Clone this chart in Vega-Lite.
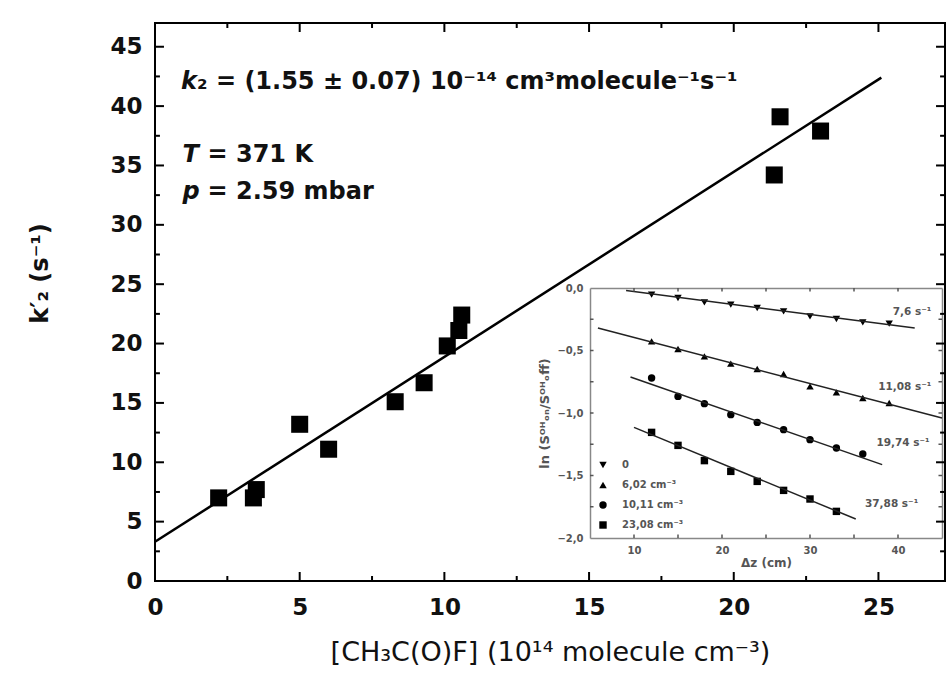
{
  "$schema": "https://vega.github.io/schema/vega-lite/v6.json",
  "width": 790,
  "height": 558,
  "autosize": {"type": "none"},
  "padding": {"left": 155, "top": 23, "right": 1, "bottom": 99},
  "background": "white",
  "config": {"view": {"stroke": "black", "strokeWidth": 2}, "font": "DejaVu Sans"},
  "datasets": {
    "xMaj": [{"t": 0}, {"t": 5}, {"t": 10}, {"t": 15}, {"t": 20}, {"t": 25}],
    "xMin": [{"t": 2.5}, {"t": 7.5}, {"t": 12.5}, {"t": 17.5}, {"t": 22.5}],
    "yMaj": [{"t": 5}, {"t": 10}, {"t": 15}, {"t": 20}, {"t": 25}, {"t": 30}, {"t": 35}, {"t": 40}, {"t": 45}],
    "yMin": [{"t": 2.5}, {"t": 7.5}, {"t": 12.5}, {"t": 17.5}, {"t": 22.5}, {"t": 27.5}, {"t": 32.5}, {"t": 37.5}, {"t": 42.5}],
    "ixT": [{"t": 10}, {"t": 15}, {"t": 20}, {"t": 25}, {"t": 30}, {"t": 35}, {"t": 40}],
    "iyT": [{"t": -1.75}, {"t": -1.5}, {"t": -1.25}, {"t": -1}, {"t": -0.75}, {"t": -0.5}, {"t": -0.25}]
  },
  "resolve": {"scale": {"x": "independent", "y": "independent"}},
  "layer": [
    {
      "resolve": {"axis": {"x": "independent", "y": "independent"}},
      "layer": [
        {
          "data": {"values": [
            {"conc": 2.2, "k": 7.0}, {"conc": 3.4, "k": 7.0}, {"conc": 3.5, "k": 7.7},
            {"conc": 5.0, "k": 13.2}, {"conc": 6.0, "k": 11.1}, {"conc": 8.3, "k": 15.1},
            {"conc": 9.3, "k": 16.7}, {"conc": 10.1, "k": 19.8}, {"conc": 10.5, "k": 21.1},
            {"conc": 10.6, "k": 22.4}, {"conc": 21.4, "k": 34.2}, {"conc": 21.6, "k": 39.1},
            {"conc": 23.0, "k": 37.9}
          ]},
          "mark": {"type": "square", "size": 290, "color": "black", "opacity": 1},
          "encoding": {
            "x": {"field": "conc", "type": "quantitative",
              "scale": {"domain": [0, 27.3], "nice": false, "zero": false},
              "axis": {"orient": "bottom", "grid": false, "ticks": false, "tickSize": 0, "domain": false,
                "values": [0, 5, 10, 15, 20, 25],
                "labelFont": "DejaVu Sans", "labelFontSize": 23, "labelFontWeight": "bold", "labelColor": "#111", "labelPadding": 15,
                "labelFlush": false, "labelOverlap": false,
                "title": "[CH₃C(O)F]  (10¹⁴ molecule cm⁻³)", "titleFont": "DejaVu Sans", "titleFontSize": 27, "titleFontWeight": "normal",
                "titleColor": "#111", "titlePadding": 20}},
            "y": {"field": "k", "type": "quantitative",
              "scale": {"domain": [0, 47], "nice": false},
              "axis": {"orient": "left", "grid": false, "ticks": false, "tickSize": 0, "domain": false,
                "values": [0, 5, 10, 15, 20, 25, 30, 35, 40, 45],
                "labelFont": "DejaVu Sans", "labelFontSize": 23, "labelFontWeight": "bold", "labelColor": "#111", "labelPadding": 13,
                "labelFlush": false, "labelOverlap": false,
                "title": "k′₂ (s⁻¹)", "titleFont": "DejaVu Sans", "titleFontSize": 24, "titleFontWeight": "bold",
                "titleColor": "#111", "titlePadding": 57, "titleY": 250}}
          }
        },
        {
          "data": {"values": [{"conc": 0, "k": 3.3}, {"conc": 25.1, "k": 42.4}]},
          "mark": {"type": "line", "color": "black", "strokeWidth": 2.5},
          "encoding": {
            "x": {"field": "conc", "type": "quantitative", "scale": {"domain": [0, 27.3], "nice": false, "zero": false}, "axis": null},
            "y": {"field": "k", "type": "quantitative", "scale": {"domain": [0, 47], "nice": false}, "axis": null}
          }
        },
        {
          "data": {"name": "xMaj"},
          "layer": [
            {"mark": {"type": "rule", "color": "black", "strokeWidth": 2},
             "encoding": {
               "x": {"field": "t", "type": "quantitative", "scale": {"domain": [0, 27.3], "nice": false, "zero": false}, "axis": null},
               "y": {"datum": 0, "type": "quantitative", "scale": {"domain": [0, 47], "nice": false}, "axis": null},
               "y2": {"datum": 0.76}}},
            {"mark": {"type": "rule", "color": "black", "strokeWidth": 2},
             "encoding": {
               "x": {"field": "t", "type": "quantitative", "scale": {"domain": [0, 27.3], "nice": false, "zero": false}, "axis": null},
               "y": {"datum": 47, "type": "quantitative", "scale": {"domain": [0, 47], "nice": false}, "axis": null},
               "y2": {"datum": 46.24}}}
          ]
        },
        {
          "data": {"name": "xMin"},
          "layer": [
            {"mark": {"type": "rule", "color": "black", "strokeWidth": 2},
             "encoding": {
               "x": {"field": "t", "type": "quantitative", "scale": {"domain": [0, 27.3], "nice": false, "zero": false}, "axis": null},
               "y": {"datum": 0, "type": "quantitative", "scale": {"domain": [0, 47], "nice": false}, "axis": null},
               "y2": {"datum": 0.42}}},
            {"mark": {"type": "rule", "color": "black", "strokeWidth": 2},
             "encoding": {
               "x": {"field": "t", "type": "quantitative", "scale": {"domain": [0, 27.3], "nice": false, "zero": false}, "axis": null},
               "y": {"datum": 47, "type": "quantitative", "scale": {"domain": [0, 47], "nice": false}, "axis": null},
               "y2": {"datum": 46.58}}}
          ]
        },
        {
          "data": {"name": "yMaj"},
          "layer": [
            {"mark": {"type": "rule", "color": "black", "strokeWidth": 2},
             "encoding": {
               "y": {"field": "t", "type": "quantitative", "scale": {"domain": [0, 47], "nice": false}, "axis": null},
               "x": {"datum": 0, "type": "quantitative", "scale": {"domain": [0, 27.3], "nice": false, "zero": false}, "axis": null},
               "x2": {"datum": 0.31}}},
            {"mark": {"type": "rule", "color": "black", "strokeWidth": 2},
             "encoding": {
               "y": {"field": "t", "type": "quantitative", "scale": {"domain": [0, 47], "nice": false}, "axis": null},
               "x": {"datum": 27.3, "type": "quantitative", "scale": {"domain": [0, 27.3], "nice": false, "zero": false}, "axis": null},
               "x2": {"datum": 26.99}}}
          ]
        },
        {
          "data": {"name": "yMin"},
          "layer": [
            {"mark": {"type": "rule", "color": "black", "strokeWidth": 2},
             "encoding": {
               "y": {"field": "t", "type": "quantitative", "scale": {"domain": [0, 47], "nice": false}, "axis": null},
               "x": {"datum": 0, "type": "quantitative", "scale": {"domain": [0, 27.3], "nice": false, "zero": false}, "axis": null},
               "x2": {"datum": 0.17}}},
            {"mark": {"type": "rule", "color": "black", "strokeWidth": 2},
             "encoding": {
               "y": {"field": "t", "type": "quantitative", "scale": {"domain": [0, 47], "nice": false}, "axis": null},
               "x": {"datum": 27.3, "type": "quantitative", "scale": {"domain": [0, 27.3], "nice": false, "zero": false}, "axis": null},
               "x2": {"datum": 27.13}}}
          ]
        },
        {
          "data": {"values": [
            {"conc": 0.9, "k": 42.0, "sym": "k", "rest": "₂ = (1.55 ± 0.07) 10⁻¹⁴ cm³molecule⁻¹s⁻¹"},
            {"conc": 0.95, "k": 35.9, "sym": "T", "rest": "= 371 K"},
            {"conc": 0.95, "k": 32.8, "sym": "p", "rest": "= 2.59 mbar"}
          ]},
          "layer": [
            {
              "mark": {"type": "text", "align": "left", "baseline": "middle", "fontSize": 24,
                "font": "DejaVu Sans", "fontWeight": "bold", "fontStyle": "italic", "color": "#111"},
              "encoding": {
                "x": {"field": "conc", "type": "quantitative", "scale": {"domain": [0, 27.3], "nice": false, "zero": false}, "axis": null},
                "y": {"field": "k", "type": "quantitative", "scale": {"domain": [0, 47], "nice": false}, "axis": null},
                "text": {"field": "sym"}
              }
            },
            {
              "transform": [{"filter": "datum.sym === 'k'"}],
              "mark": {"type": "text", "align": "left", "baseline": "middle", "fontSize": 24,
                "font": "DejaVu Sans", "fontWeight": "bold", "color": "#111", "dx": 16},
              "encoding": {
                "x": {"field": "conc", "type": "quantitative", "scale": {"domain": [0, 27.3], "nice": false, "zero": false}, "axis": null},
                "y": {"field": "k", "type": "quantitative", "scale": {"domain": [0, 47], "nice": false}, "axis": null},
                "text": {"field": "rest"}
              }
            },
            {
              "transform": [{"filter": "datum.sym !== 'k'"}],
              "mark": {"type": "text", "align": "left", "baseline": "middle", "fontSize": 24,
                "font": "DejaVu Sans", "fontWeight": "bold", "color": "#111", "dx": 25},
              "encoding": {
                "x": {"field": "conc", "type": "quantitative", "scale": {"domain": [0, 27.3], "nice": false, "zero": false}, "axis": null},
                "y": {"field": "k", "type": "quantitative", "scale": {"domain": [0, 47], "nice": false}, "axis": null},
                "text": {"field": "rest"}
              }
            }
          ]
        }
      ]
    },
    {
      "resolve": {"axis": {"x": "independent", "y": "independent"}},
      "layer": [
        {
          "data": {"values": [
            {"c": "0", "dz": 12, "v": -0.053}, {"c": "0", "dz": 15, "v": -0.08}, {"c": "0", "dz": 18, "v": -0.115},
            {"c": "0", "dz": 21, "v": -0.133}, {"c": "0", "dz": 24, "v": -0.16}, {"c": "0", "dz": 27, "v": -0.187},
            {"c": "0", "dz": 30, "v": -0.227}, {"c": "0", "dz": 33, "v": -0.248}, {"c": "0", "dz": 36, "v": -0.275},
            {"c": "0", "dz": 39, "v": -0.285},
            {"c": "6,02 cm⁻³", "dz": 12, "v": -0.427}, {"c": "6,02 cm⁻³", "dz": 15, "v": -0.488},
            {"c": "6,02 cm⁻³", "dz": 18, "v": -0.547}, {"c": "6,02 cm⁻³", "dz": 21, "v": -0.605},
            {"c": "6,02 cm⁻³", "dz": 24, "v": -0.648}, {"c": "6,02 cm⁻³", "dz": 27, "v": -0.688},
            {"c": "6,02 cm⁻³", "dz": 30, "v": -0.787}, {"c": "6,02 cm⁻³", "dz": 33, "v": -0.835},
            {"c": "6,02 cm⁻³", "dz": 36, "v": -0.88}, {"c": "6,02 cm⁻³", "dz": 39, "v": -0.92},
            {"c": "10,11 cm⁻³", "dz": 12, "v": -0.72}, {"c": "10,11 cm⁻³", "dz": 15, "v": -0.867},
            {"c": "10,11 cm⁻³", "dz": 18, "v": -0.925}, {"c": "10,11 cm⁻³", "dz": 21, "v": -1.013},
            {"c": "10,11 cm⁻³", "dz": 24, "v": -1.075}, {"c": "10,11 cm⁻³", "dz": 27, "v": -1.133},
            {"c": "10,11 cm⁻³", "dz": 30, "v": -1.213}, {"c": "10,11 cm⁻³", "dz": 33, "v": -1.28},
            {"c": "10,11 cm⁻³", "dz": 36, "v": -1.328},
            {"c": "23,08 cm⁻³", "dz": 12, "v": -1.155}, {"c": "23,08 cm⁻³", "dz": 15, "v": -1.259},
            {"c": "23,08 cm⁻³", "dz": 18, "v": -1.381}, {"c": "23,08 cm⁻³", "dz": 21, "v": -1.467},
            {"c": "23,08 cm⁻³", "dz": 24, "v": -1.547}, {"c": "23,08 cm⁻³", "dz": 27, "v": -1.619},
            {"c": "23,08 cm⁻³", "dz": 30, "v": -1.688}, {"c": "23,08 cm⁻³", "dz": 33, "v": -1.787}
          ]},
          "mark": {"type": "point", "filled": true, "color": "black", "size": 55, "opacity": 1},
          "encoding": {
            "x": {"field": "dz", "type": "quantitative",
              "scale": {"domain": [5, 45], "range": [435, 787], "nice": false, "zero": false},
              "axis": {"orient": "bottom", "offset": -43, "grid": false, "ticks": false, "tickSize": 0,
                "values": [10, 20, 30, 40],
                "domainColor": "#888", "domainWidth": 1.5,
                "labelFont": "DejaVu Sans", "labelFontSize": 10, "labelFontWeight": "bold", "labelColor": "#555", "labelPadding": 7,
                "labelFlush": false, "labelOverlap": false,
                "title": "Δz  (cm)", "titleFont": "DejaVu Sans", "titleFontSize": 12, "titleFontWeight": "bold", "titleColor": "#555", "titlePadding": 2}},
            "y": {"field": "v", "type": "quantitative",
              "scale": {"domain": [-2, 0], "range": [515, 265], "nice": false, "zero": false},
              "axis": {"orient": "left", "offset": -435, "grid": false, "ticks": false, "tickSize": 0,
                "values": [-2, -1.5, -1, -0.5, 0],
                "labelExpr": "replace(format(datum.value, '.1f'), '.', ',')",
                "domainColor": "#888", "domainWidth": 1.5,
                "labelFont": "DejaVu Sans", "labelFontSize": 10, "labelFontWeight": "bold", "labelColor": "#555", "labelPadding": 7,
                "labelFlush": false, "labelOverlap": false,
                "title": "ln (Sᴼᴴₒₙ/Sᴼᴴₒff)", "titleFont": "DejaVu Sans", "titleFontSize": 13, "titleFontWeight": "bold", "titleColor": "#555", "titlePadding": 5}},
            "shape": {"field": "c", "type": "nominal",
              "scale": {"domain": ["0", "6,02 cm⁻³", "10,11 cm⁻³", "23,08 cm⁻³"],
                "range": ["triangle-down", "triangle-up", "circle", "square"]},
              "legend": {"orient": "none", "legendX": 443, "legendY": 437, "title": null, "padding": 0,
                "labelFont": "DejaVu Sans", "labelFontSize": 10, "labelFontWeight": "bold", "labelColor": "#555",
                "symbolFillColor": "black", "symbolStrokeColor": "black", "symbolSize": 55,
                "rowPadding": 6, "labelOffset": 14}}
          }
        },
        {
          "data": {"values": [
            {"c": "0", "dz": 9.1, "v": -0.02}, {"c": "0", "dz": 41.9, "v": -0.32},
            {"c": "6,02 cm⁻³", "dz": 5.9, "v": -0.32}, {"c": "6,02 cm⁻³", "dz": 45, "v": -1.04},
            {"c": "10,11 cm⁻³", "dz": 9.6, "v": -0.712}, {"c": "10,11 cm⁻³", "dz": 38.2, "v": -1.413},
            {"c": "23,08 cm⁻³", "dz": 10, "v": -1.115}, {"c": "23,08 cm⁻³", "dz": 35.2, "v": -1.848}
          ]},
          "mark": {"type": "line", "color": "#222", "strokeWidth": 1.5},
          "encoding": {
            "x": {"field": "dz", "type": "quantitative",
              "scale": {"domain": [5, 45], "range": [435, 787], "nice": false, "zero": false},
              "axis": {"orient": "bottom", "offset": -293, "grid": false, "labels": false, "title": null,
                "ticks": false, "tickSize": 0, "domainColor": "#888", "domainWidth": 1.5}},
            "y": {"field": "v", "type": "quantitative",
              "scale": {"domain": [-2, 0], "range": [515, 265], "nice": false, "zero": false},
              "axis": {"orient": "left", "offset": -787, "grid": false, "labels": false, "title": null,
                "ticks": false, "tickSize": 0, "domainColor": "#888", "domainWidth": 1.5}},
            "detail": {"field": "c", "type": "nominal"}
          }
        },
        {
          "data": {"name": "ixT"},
          "layer": [
            {"mark": {"type": "rule", "color": "#555", "strokeWidth": 1.5},
             "encoding": {
               "x": {"field": "t", "type": "quantitative", "scale": {"domain": [5, 45], "range": [435, 787], "nice": false, "zero": false}, "axis": null},
               "y": {"datum": -2, "type": "quantitative", "scale": {"domain": [-2, 0], "range": [515, 265], "nice": false, "zero": false}, "axis": null},
               "y2": {"datum": -1.972}}},
            {"mark": {"type": "rule", "color": "#555", "strokeWidth": 1.5},
             "encoding": {
               "x": {"field": "t", "type": "quantitative", "scale": {"domain": [5, 45], "range": [435, 787], "nice": false, "zero": false}, "axis": null},
               "y": {"datum": 0, "type": "quantitative", "scale": {"domain": [-2, 0], "range": [515, 265], "nice": false, "zero": false}, "axis": null},
               "y2": {"datum": -0.028}}}
          ]
        },
        {
          "data": {"name": "iyT"},
          "layer": [
            {"mark": {"type": "rule", "color": "#555", "strokeWidth": 1.5},
             "encoding": {
               "y": {"field": "t", "type": "quantitative", "scale": {"domain": [-2, 0], "range": [515, 265], "nice": false, "zero": false}, "axis": null},
               "x": {"datum": 5, "type": "quantitative", "scale": {"domain": [5, 45], "range": [435, 787], "nice": false, "zero": false}, "axis": null},
               "x2": {"datum": 5.4}}},
            {"mark": {"type": "rule", "color": "#555", "strokeWidth": 1.5},
             "encoding": {
               "y": {"field": "t", "type": "quantitative", "scale": {"domain": [-2, 0], "range": [515, 265], "nice": false, "zero": false}, "axis": null},
               "x": {"datum": 45, "type": "quantitative", "scale": {"domain": [5, 45], "range": [435, 787], "nice": false, "zero": false}, "axis": null},
               "x2": {"datum": 44.6}}}
          ]
        },
        {
          "data": {"values": [
            {"dz": 43.8, "v": -0.19, "t": "7,6 s⁻¹"},
            {"dz": 43.8, "v": -0.79, "t": "11,08 s⁻¹"},
            {"dz": 43.6, "v": -1.24, "t": "19,74 s⁻¹"},
            {"dz": 42.3, "v": -1.73, "t": "37,88  s⁻¹"}
          ]},
          "mark": {"type": "text", "align": "right", "baseline": "middle", "fontSize": 10.5,
            "font": "DejaVu Sans", "fontWeight": "bold", "color": "#555"},
          "encoding": {
            "x": {"field": "dz", "type": "quantitative",
              "scale": {"domain": [5, 45], "range": [435, 787], "nice": false, "zero": false}, "axis": null},
            "y": {"field": "v", "type": "quantitative",
              "scale": {"domain": [-2, 0], "range": [515, 265], "nice": false, "zero": false}, "axis": null},
            "text": {"field": "t"}
          }
        }
      ]
    }
  ]
}
